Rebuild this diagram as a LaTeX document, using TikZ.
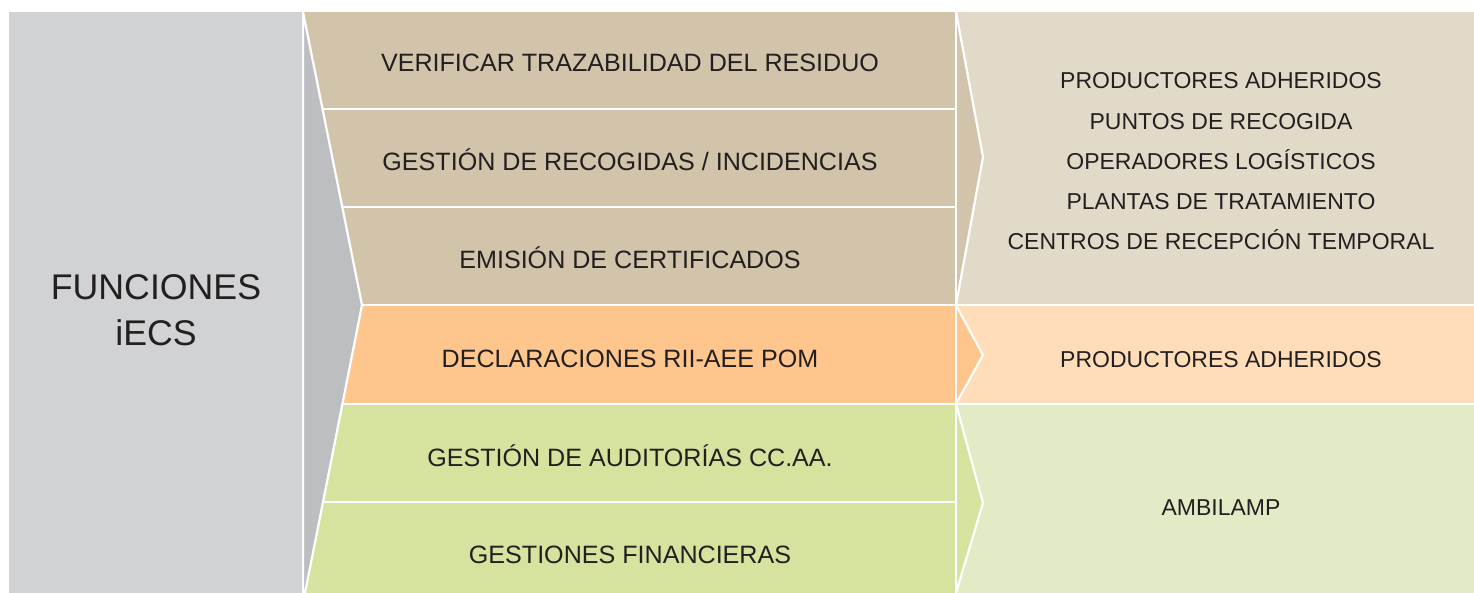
\documentclass[tikz,border=0pt]{standalone}
\usepackage{fontspec}
\setmainfont{Liberation Sans}
\definecolor{funcgray}{RGB}{209,210,212}
\definecolor{arrowgray}{RGB}{188,190,194}
\definecolor{brownband}{RGB}{209,196,170}
\definecolor{brownpale}{RGB}{226,218,201}
\definecolor{orangeband}{RGB}{254,198,140}
\definecolor{orangepale}{RGB}{254,221,184}
\definecolor{greenband}{RGB}{214,227,158}
\definecolor{greenpale}{RGB}{227,235,198}
\definecolor{inktext}{RGB}{35,31,32}
\tikzset{rowtext/.style={anchor=base,inner sep=0pt,text=inktext,
  font=\fontsize{25.1}{30}\selectfont},
 sidetext/.style={rowtext,font=\fontsize{23}{28}\selectfont},
 gap/.style={draw=white,line width=2.2pt}}

\begin{document}
\begin{tikzpicture}[x=1pt,y=-1pt]
\useasboundingbox (0,0) rectangle (1474,593);
\fill[white] (0,0) rectangle (1474,593);
% bands
\fill[brownband] (300,12) rectangle (956,305);
\fill[orangeband] (300,305) rectangle (956,404);
\fill[greenband] (300,404) rectangle (956,593);
\fill[brownpale] (956,12) rectangle (1474,305);
\fill[orangepale] (956,305) rectangle (1474,404);
\fill[greenpale] (956,404) rectangle (1474,593);
\draw[gap] (300,109)--(956,109);
\draw[gap] (300,207)--(956,207);
\draw[gap] (300,305)--(1474,305);
\draw[gap] (300,404)--(1474,404);
\draw[gap] (300,502)--(956,502);
% chevrons
\filldraw[gap,fill=brownband] (956,12)--(983,157)--(956,305);
\filldraw[gap,fill=orangeband] (956,305)--(983,355)--(956,404);
\filldraw[gap,fill=greenband] (956,404)--(983,503)--(956,593);
\draw[gap] (956,12)--(956,593);
\filldraw[gap,fill=arrowgray] (303,12)--(362,305)--(305,593)--(303,593)--cycle;
\fill[funcgray] (9,12) rectangle (302,593);

\node[rowtext,font=\fontsize{35.7}{40}\selectfont] (funciones) at (156,300) {FUNCIONES};
\node[rowtext,font=\fontsize{35.7}{40}\selectfont] (iecs) at (156,345) {iECS};

\node[rowtext] (verificar) at (630,72) {VERIFICAR TRAZABILIDAD DEL RESIDUO};
\node[rowtext] (recogidas) at (630,171) {GESTIÓN DE RECOGIDAS / INCIDENCIAS};
\node[rowtext] (certificados) at (630,269) {EMISIÓN DE CERTIFICADOS};
\node[rowtext] (declaraciones) at (630,367) {DECLARACIONES RII-AEE POM};
\node[rowtext] (auditorias) at (630,466) {GESTIÓN DE AUDITORÍAS CC.AA.};
\node[rowtext] (financieras) at (630,563) {GESTIONES FINANCIERAS};

\node[sidetext] (productores) at (1221,89) {PRODUCTORES ADHERIDOS};
\node[sidetext] (puntos) at (1221,130) {PUNTOS DE RECOGIDA};
\node[sidetext] (operadores) at (1221,170) {OPERADORES LOGÍSTICOS};
\node[sidetext] (plantas) at (1221,210) {PLANTAS DE TRATAMIENTO};
\node[sidetext] (centros) at (1221,250) {CENTROS DE RECEPCIÓN TEMPORAL};
\node[sidetext] (adheridos) at (1221,367) {PRODUCTORES ADHERIDOS};
\node[sidetext] (ambilamp) at (1221,515) {AMBILAMP};
\end{tikzpicture}
\end{document}
